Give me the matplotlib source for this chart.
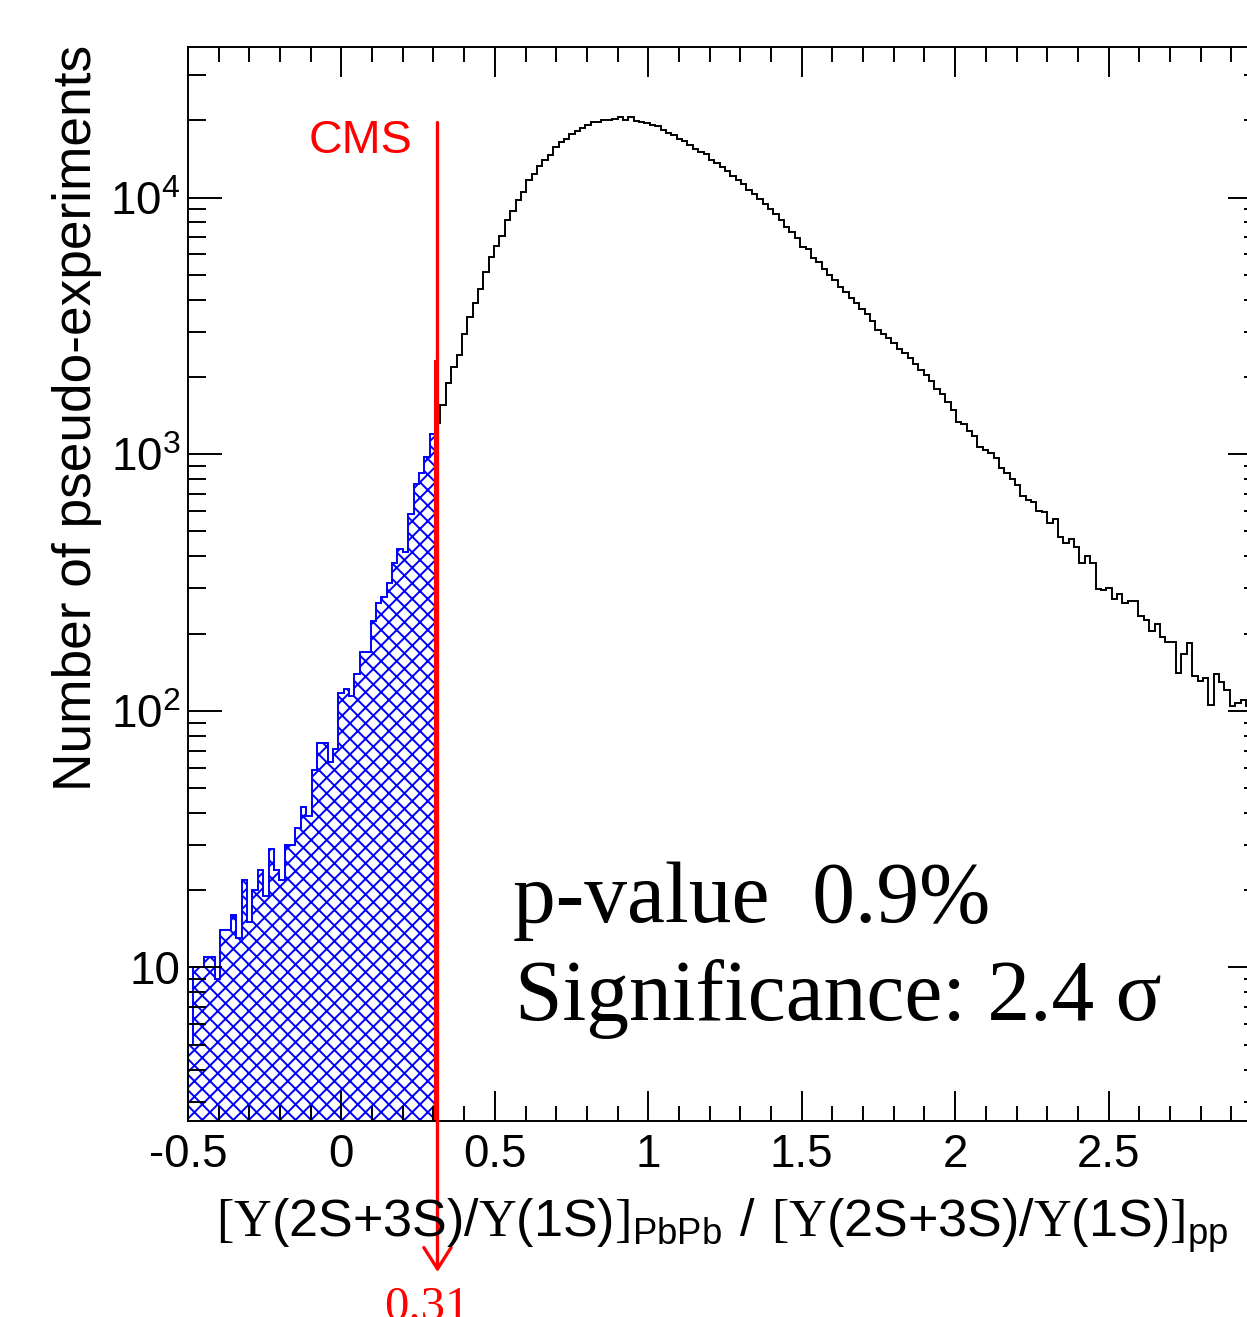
import numpy as np
import matplotlib
matplotlib.use('Agg')
import matplotlib.pyplot as plt
from matplotlib.ticker import MultipleLocator, LogLocator, FuncFormatter, NullFormatter

# histogram of the pseudo-experiment ratio, 200 bins on [-0.5, 3.0]
x_lo, x_hi, n_bins = -0.5, 3.0, 200
counts = [
    # bins 0-46 (shaded, below the CMS value)
    5, 10, 10, 11, 11, 9, 14, 14, 16, 13, 22, 15, 20, 24, 19, 29, 24, 22, 30, 30,
    35, 42, 39, 59, 75, 75, 63, 71, 117, 122, 114, 139, 169, 169, 224, 262, 277, 316,
    375, 427, 416, 582, 762, 846, 977, 1197, 1318,
    # bins 47-63
    1552, 1897, 2188, 2431, 2951, 3412, 3864, 4419, 5128, 5872, 6457, 7110, 8159,
    8874, 9768, 10520, 11670,
    # bins 64-84
    12404, 13280, 13970, 14710, 15740, 16470, 16980, 17750, 18180, 18580, 19140,
    19700, 19700, 20000, 20000, 20180, 20510, 20120, 20510, 19880, 19700,
    # bins 85-106
    19530, 19250, 18960, 18280, 17910, 17600, 16980, 16610, 16090, 15520, 15060,
    14840, 14060, 13570, 13160, 12660, 12110, 11670, 11270, 10740, 10300, 9840,
    # bins 107-112
    9450, 9050, 8600, 8150, 7700, 7350,
    # bins 113-129
    6961, 6422, 6290, 5835, 5610, 5289, 5012, 4764, 4486, 4289, 4043, 3864, 3694,
    3532, 3306, 3041, 2935,
    # bins 130-142
    2830, 2700, 2560, 2470, 2380, 2250, 2130, 2030, 1930, 1800, 1720, 1600, 1484,
    # bins 143-169
    1336, 1309, 1229, 1175, 1062, 1036, 1006, 968, 887, 846, 799, 757, 688, 662,
    648, 601, 593, 540, 557, 476, 449, 465, 433, 377, 402, 375, 297,
    # bins 170-199
    295, 301, 272, 284, 262, 268, 268, 234, 225, 205, 218, 194, 185, 185, 140, 166,
    184, 136, 131, 134, 105, 139, 129, 120, 104, 107, 110, 104, 103, 100,
]
cms_value = 0.31
cms_bin = 46          # bin holding the CMS value
line_top = 2300       # top of the short red line
arrow_top = 19600     # start of the red arrow
arrow_tip = 0.65      # arrow tip, below the frame

x_ticks_labels = ['-0.5', '0', '0.5', '1', '1.5', '2', '2.5']

W, H, DPI = 1247, 1317, 140
plt.rcParams['font.family'] = ['Liberation Sans', 'DejaVu Sans']
plt.rcParams['mathtext.fontset'] = 'custom'
plt.rcParams['mathtext.rm'] = 'Liberation Serif'
plt.rcParams['mathtext.sf'] = 'Liberation Sans'
plt.rcParams['hatch.linewidth'] = 1.0
plt.rcParams['hatch.color'] = 'blue'

fig = plt.figure(figsize=(W / DPI, H / DPI), dpi=DPI)
ax = fig.add_axes([188 / W, 1 - 1121 / H, 1074 / W, (1121 - 46.7) / H])

edges = np.linspace(x_lo, x_hi, n_bins + 1)
counts = np.array(counts, dtype=float)

# main histogram, right of the cut
ax.stairs(counts[cms_bin:], edges[cms_bin:], baseline=None, color='black', lw=1.0)

# shaded part below the CMS value
cut_edges = np.append(edges[:cms_bin + 1], cms_value)
ax.stairs(counts[:cms_bin + 1], cut_edges, baseline=1e-3, fill=True,
          facecolor='none', edgecolor='blue', hatch='xxx', lw=1.0)

ax.set_yscale('log')
ax.set_xlim(x_lo, x_hi)
ax.set_ylim(2.52, 38700)

# red marker of the measured value
ax.plot([cms_value - 0.004] * 2, [1e-3, line_top], color='red', lw=1.6)
ax.annotate('', xy=(cms_value + 0.003, arrow_tip), xytext=(cms_value + 0.003, arrow_top),
            arrowprops=dict(arrowstyle='->,head_length=11,head_width=7', mutation_scale=1,
                            color='red', lw=1.7, shrinkA=0, shrinkB=0),
            annotation_clip=False)

# axes styling, ROOT-like
for s in ax.spines.values():
    s.set_linewidth(1.0)
ax.xaxis.set_major_locator(MultipleLocator(0.5))
ax.xaxis.set_minor_locator(MultipleLocator(0.1))
ax.xaxis.set_major_formatter(FuncFormatter(
    lambda v, p: x_ticks_labels[int(round((v - x_lo) / 0.5))] if v < 2.9 else ''))
ax.yaxis.set_major_locator(LogLocator(base=10, numticks=10))
ax.yaxis.set_minor_locator(LogLocator(base=10, subs=np.arange(2, 10), numticks=20))
ax.yaxis.set_minor_formatter(NullFormatter())


def ylab(v, p):
    e = int(round(np.log10(v)))
    if e == 1:
        return '10'
    return r'$\mathregular{10^{%d}}$' % e


ax.yaxis.set_major_formatter(FuncFormatter(ylab))
ax.tick_params(axis='x', which='major', direction='in', top=True, length=15.4, width=1.0,
               labelsize=23.5, pad=6)
ax.tick_params(axis='x', which='minor', direction='in', top=True, length=7.7, width=1.0)
ax.tick_params(axis='y', which='major', direction='in', right=True, length=17.5, width=1.0,
               labelsize=23.5, pad=4)
ax.tick_params(axis='y', which='minor', direction='in', right=True, length=9.3, width=1.0)

# texts
fig.text(77 / W, 1 - 45 / H, 'Number of pseudo-experiments', rotation=90,
         ha='center', va='top', fontsize=27.4)
xlabel = (r'$\mathrm{[\Upsilon}\mathsf{(2S{+}3S)/}\mathrm{\Upsilon}\mathsf{(1S)}\mathrm{]}'
          r'_{\mathsf{PbPb}}\mathsf{\ /\ }\mathrm{[\Upsilon}\mathsf{(2S{+}3S)/}\mathrm{\Upsilon}'
          r'\mathsf{(1S)}\mathrm{]}_{\mathsf{pp}}$')
fig.text(1228 / W, 1 - 1237 / H, xlabel, ha='right', va='baseline', fontsize=26.8)
fig.text(412 / W, 1 - 153 / H, 'CMS', ha='right', va='baseline', color='red', fontsize=24)
fig.text(513 / W, 1 - 922 / H, 'p-value  0.9%', family='Liberation Serif',
         fontsize=44, va='baseline')
fig.text(515 / W, 1 - 1020 / H, 'Significance: 2.4 σ', family='Liberation Serif',
         fontsize=44, va='baseline')
fig.text(427 / W, 1 - 1286 / H, '0.31', ha='center', va='top', color='red',
         family='Liberation Serif', fontsize=25)

fig.savefig('out.png', dpi=DPI)
